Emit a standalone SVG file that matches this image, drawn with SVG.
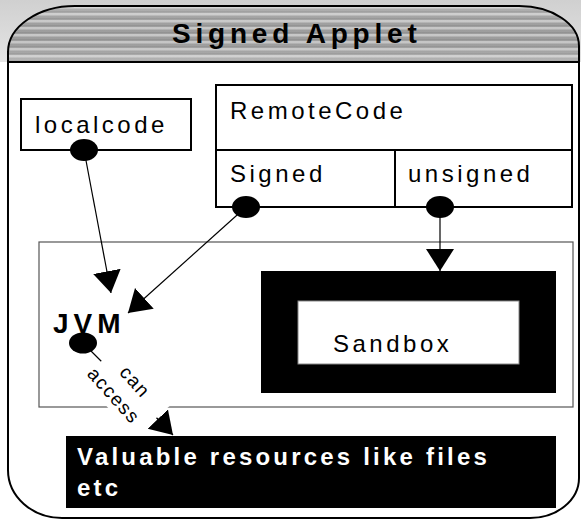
<svg xmlns="http://www.w3.org/2000/svg" width="581" height="520" viewBox="0 0 581 520">
  <defs>
    <style>
      .lbl { font-family: "Liberation Sans", Arial, sans-serif; font-size: 24px; letter-spacing: 3.5px; fill: #000; }
      .bold { font-weight: bold; }
      .box { fill: #fff; stroke: #000; stroke-width: 2; }
      .dot { fill: #000; }
      .conn { fill: none; stroke: #000; stroke-width: 1.2; }
    </style>
    <linearGradient id="outerBg" x1="0" y1="0" x2="0" y2="1">
      <stop offset="0" stop-color="#d0d0d0"/>
      <stop offset="1" stop-color="#e4e4e4"/>
    </linearGradient>
    <pattern id="stripes" patternUnits="userSpaceOnUse" x="0" y="6" width="581" height="7">
      <rect x="0" y="0" width="581" height="7" fill="#a6a6a6"/>
      <rect x="0" y="0" width="581" height="2" fill="#d2d2d2"/>
      <rect x="0" y="2" width="581" height="1" fill="#bcbcbc"/>
      <rect x="0" y="5" width="581" height="1" fill="#9a9a9a"/>
    </pattern>
    <linearGradient id="shade" x1="0" y1="0" x2="0" y2="1">
      <stop offset="0" stop-color="#ffffff" stop-opacity="0.15"/>
      <stop offset="0.5" stop-color="#000000" stop-opacity="0.05"/>
      <stop offset="1" stop-color="#ffffff" stop-opacity="0.2"/>
    </linearGradient>
    <clipPath id="outerClip">
      <path d="M 8,52 A 67,46 0 0 1 75,6 L 519,6 A 60,40 0 0 1 579,46 L 579,478 A 49,40 0 0 1 530,518 L 62,518 A 54,48 0 0 1 8,470 Z"/>
    </clipPath>
    <marker id="arr" markerUnits="userSpaceOnUse" markerWidth="24" markerHeight="30" refX="22" refY="14" orient="auto">
      <path d="M0,0 L22,14 L0,28 Z" fill="#000"/>
    </marker>
  </defs>

  <rect x="0" y="0" width="581" height="520" fill="#fff"/>

  <g id="frame">
    <rect x="0" y="0" width="581" height="62" fill="url(#outerBg)"/>
    <g clip-path="url(#outerClip)">
      <rect x="0" y="62" width="581" height="460" fill="#fff"/>
      <rect x="0" y="6" width="581" height="56" fill="url(#stripes)"/>
      <rect x="0" y="6" width="581" height="56" fill="url(#shade)"/>
    </g>
    <path d="M 8,52 A 67,46 0 0 1 75,6 L 519,6 A 60,40 0 0 1 579,46 L 579,478 A 49,40 0 0 1 530,518 L 62,518 A 54,48 0 0 1 8,470 Z" fill="none" stroke="#000" stroke-width="2"/>
    <line x1="8" y1="62" x2="579" y2="62" stroke="#000" stroke-width="2"/>
    <text class="lbl bold" x="172" y="43" style="font-size:28px;letter-spacing:4.8px">Signed Applet</text>
  </g>

  <g id="jvm-area">
    <rect x="39" y="242" width="534" height="165" fill="#fff" stroke="#555" stroke-width="1.2"/>
  </g>

  <g id="sandbox">
    <rect x="261" y="271" width="295" height="122" fill="#000"/>
    <rect x="298" y="301" width="221" height="63" fill="#fff" stroke="#888" stroke-width="1"/>
    <text class="lbl" x="333" y="352">Sandbox</text>
  </g>

  <g id="connectors">
    <line class="conn" x1="84" y1="150" x2="111" y2="293" marker-end="url(#arr)"/>
    <line class="conn" x1="246" y1="207" x2="128" y2="313" marker-end="url(#arr)"/>
    <line class="conn" x1="440" y1="207" x2="440" y2="271" marker-end="url(#arr)"/>
    <path class="conn" d="M83,343 L102,362 M152,413 L173,435" marker-end="url(#arr)"/>
    <g transform="translate(123,390) rotate(48)">
      <rect x="-36" y="-24" width="79" height="47" fill="#fff"/>
      <text class="lbl" x="2" y="-8" text-anchor="middle" style="font-size:19px;letter-spacing:1.5px">can</text>
      <text class="lbl" x="-2" y="17" text-anchor="middle" style="font-size:19px;letter-spacing:1.5px">access</text>
    </g>
  </g>

  <g id="localcode">
    <rect class="box" x="21" y="99" width="170" height="51"/>
    <text class="lbl" x="35" y="133">localcode</text>
    <ellipse class="dot" cx="84" cy="150" rx="14" ry="11"/>
  </g>

  <g id="remotecode">
    <rect class="box" x="216" y="85" width="356" height="122"/>
    <line x1="216" y1="150" x2="572" y2="150" stroke="#000" stroke-width="2"/>
    <line x1="395" y1="150" x2="395" y2="207" stroke="#000" stroke-width="2"/>
    <text class="lbl" x="230" y="119">RemoteCode</text>
    <text class="lbl" x="230" y="182">Signed</text>
    <text class="lbl" x="408" y="182">unsigned</text>
    <ellipse class="dot" cx="246" cy="207" rx="14" ry="11"/>
    <ellipse class="dot" cx="440" cy="207" rx="14" ry="11"/>
  </g>

  <g id="jvm">
    <text class="lbl bold" x="53" y="333" style="font-size:28px;letter-spacing:5px">JVM</text>
    <ellipse class="dot" cx="83" cy="343" rx="14" ry="10.5"/>
  </g>

  <g id="resources">
    <rect x="66" y="436" width="490" height="72" fill="#000"/>
    <text class="lbl bold" x="77" y="465" style="fill:#fff;letter-spacing:3.2px">Valuable resources like files</text>
    <text class="lbl bold" x="77" y="496" style="fill:#fff;letter-spacing:3.2px">etc</text>
  </g>
</svg>
